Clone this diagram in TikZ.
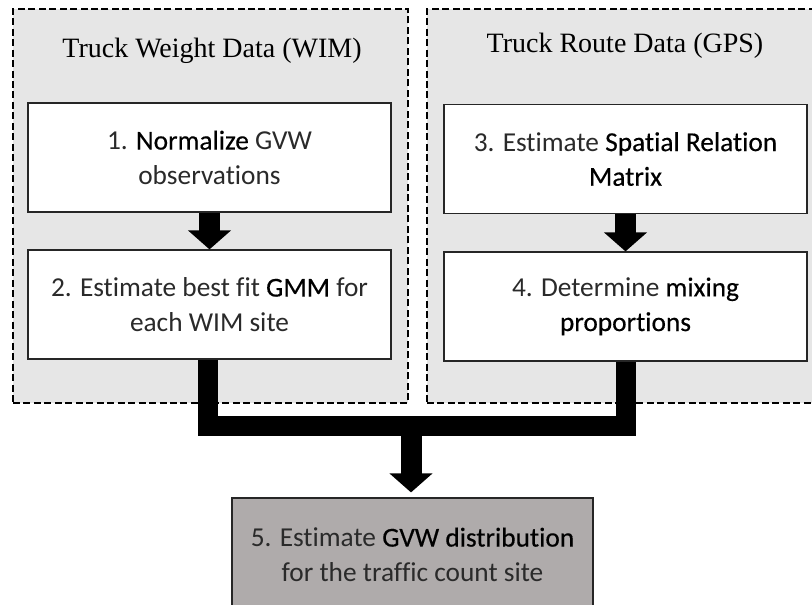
\documentclass[tikz,border=0pt]{standalone}
\usepackage{fontspec}
\setmainfont{Liberation Serif}
\newfontfamily\boxfont[Color=2A2A2A,RawFeature=-liga]{Carlito}
\newfontfamily\keyfont[FakeBold=0.4,Color=000000,RawFeature=-liga]{Carlito}
\usetikzlibrary{arrows.meta}
\definecolor{panelgray}{RGB}{230,230,230}
\definecolor{resultgray}{RGB}{175,171,171}
\newcommand{\kw}[1]{{\keyfont #1}}
\tikzset{
  panel/.style={draw=black, fill=panelgray, line width=1.5pt,
    dash pattern=on 5.25pt off 2.6pt, minimum width=296.25pt, minimum height=295.5pt,
    inner sep=0pt},
  paneltitle/.style={font=\fontsize{21}{26}\selectfont, inner sep=0pt},
  stepbox/.style={draw=black!85, fill=white, line width=0.9pt,
    minimum width=272.25pt, minimum height=81.75pt, align=center, inner sep=0pt,
    font=\boxfont\fontsize{20.5}{26}\selectfont},
  resultbox/.style={stepbox, fill=resultgray, minimum width=270.75pt, minimum height=84.75pt},
  flow/.style={line width=15.75pt, -{Triangle[width=31.5pt,length=14.25pt]}},
  merge/.style={line width=15pt, line join=miter},
}
\begin{document}
\begin{tikzpicture}[x=0.75pt, y=-0.75pt]
\useasboundingbox (0,0) rectangle (812,604);
\clip (0,0) rectangle (812,604);

% data source panels
\node[panel] (wim) at (210.5,206) {};
\node[panel] (gps) at (624.5,206) {};
\node[paneltitle] (wimtitle) at (212,51) {Truck Weight Data (WIM)};
\node[paneltitle] (gpstitle) at (625,46) {Truck Route Data (GPS)};

% processing steps
\node[stepbox] (s1) at (209.5,157.5) {1. \kw{Normalize} GVW\\observations};
\node[stepbox] (s2) at (209.5,304.5) {2. Estimate best fit \kw{GMM} for\\each WIM site};
\node[stepbox] (s3) at (625.5,159) {3. Estimate \kw{Spatial Relation}\\\kw{Matrix}};
\node[stepbox] (s4) at (625.5,306.5) {4. Determine \kw{mixing}\\\kw{proportions}};
\node[resultbox] (s5) at (412.5,554.5) {5. Estimate \kw{GVW distribution}\\for the traffic count site};

% flow arrows
\draw[flow] (s1.south) -- (s2.north);
\draw[flow] (s3.south) -- (s4.north);

% merging connector
\coordinate (join) at (411,425.5);
\draw[merge] ([xshift=-1.1pt]s2.south) |- (join) -| (s4.south);
\draw[flow, shorten >=3.75pt] (join) -- (join |- s5.north);
\end{tikzpicture}
\end{document}
